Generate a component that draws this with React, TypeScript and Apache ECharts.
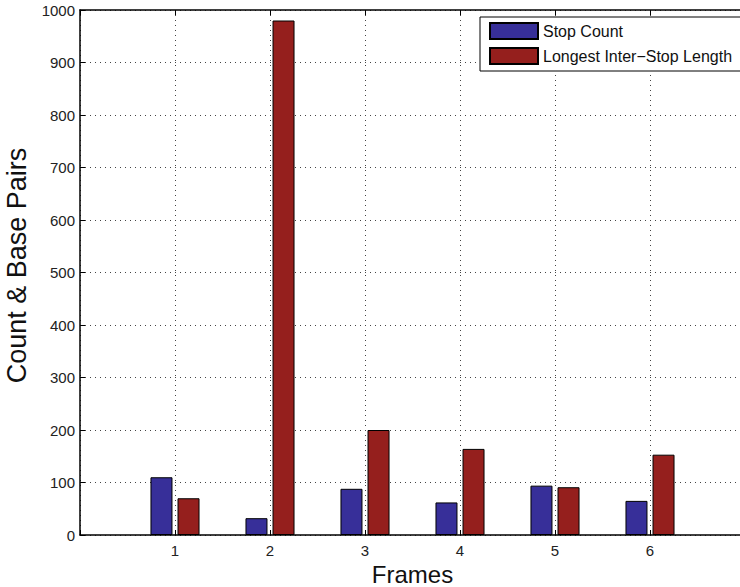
import React, { useEffect, useRef } from "react";
import * as echarts from "echarts";

const categories = ["", "1", "2", "3", "4", "5", "6", ""];
const stopCount = [null, 110, 32, 88, 62, 94, 65, null];
const longestInterStop = [null, 70, 980, 200, 164, 91, 153, null];
const seriesNames = ["Stop Count", "Longest Inter\u2212Stop Length"];
const yMin = 0;
const yMax = 1000;
const yInterval = 100;

const FONT = "'Liberation Sans', Arial, Helvetica, sans-serif";

export default function App() {
  const ref = useRef<HTMLDivElement>(null);
  useEffect(() => {
    if (!ref.current) return;
    const chart = echarts.init(ref.current, null, { renderer: "svg" });
    const gridLine = { show: true, lineStyle: { color: "#444", type: [1, 4] as any, width: 1 } };
    chart.setOption({
      animation: false,
      backgroundColor: "#fff",
      textStyle: { fontFamily: FONT },
      grid: {
        left: 80,
        top: 10,
        width: 665,
        height: 525,
        containLabel: false,
        outerBoundsMode: "none",
      },
      legend: {
        orient: "vertical",
        left: 480,
        top: 17,
        padding: [5, 12, 6, 9],
        itemGap: 7,
        itemWidth: 48,
        itemHeight: 16,
        icon: "rect",
        backgroundColor: "#fff",
        borderColor: "#000",
        borderWidth: 1,
        borderRadius: 0,
        textStyle: { fontSize: 16, color: "#111", fontFamily: FONT },
        data: seriesNames,
      },
      xAxis: [
        {
          type: "category",
          data: categories,
          boundaryGap: false,
          position: "bottom",
          axisLine: { show: true, lineStyle: { color: "#000", width: 1.5 } },
          axisTick: { show: true, inside: true, length: 5, lineStyle: { color: "#000" } },
          axisLabel: { show: true, fontSize: 15, color: "#222", margin: 8, fontFamily: FONT },
          splitLine: gridLine,
          name: "Frames",
          nameLocation: "middle",
          nameGap: 24,
          nameTextStyle: { fontSize: 24, color: "#111", fontFamily: FONT },
        },
        {
          type: "category",
          data: categories,
          boundaryGap: false,
          position: "top",
          axisLine: { show: true, lineStyle: { color: "#000", width: 1.5 } },
          axisTick: { show: true, inside: true, length: 5, lineStyle: { color: "#000" } },
          axisLabel: { show: false },
          splitLine: { show: false },
        },
      ],
      yAxis: {
        type: "value",
        min: yMin,
        max: yMax,
        interval: yInterval,
        axisLine: { show: true, lineStyle: { color: "#000", width: 1.5 } },
        axisTick: { show: true, inside: true, length: 5, lineStyle: { color: "#000" } },
        axisLabel: {
          fontSize: 15,
          color: "#222",
          margin: 5,
          fontFamily: FONT,
          formatter: (v: number) => String(v),
        },
        splitLine: gridLine,
        name: "Count & Base Pairs",
        nameLocation: "middle",
        nameGap: 50,
        nameTextStyle: { fontSize: 27, color: "#111", fontFamily: FONT, padding: [0, 0, 0, 14] },
      },
      series: [
        {
          name: seriesNames[0],
          type: "bar",
          xAxisIndex: 0,
          data: stopCount,
          barWidth: 22,
          barGap: "23%",
          itemStyle: { color: "#372f99", borderColor: "#000", borderWidth: 1 },
        },
        {
          name: seriesNames[1],
          type: "bar",
          xAxisIndex: 0,
          data: longestInterStop,
          barWidth: 22,
          barGap: "23%",
          itemStyle: { color: "#951f1d", borderColor: "#000", borderWidth: 1 },
        },
      ],
    });
    return () => chart.dispose();
  }, []);
  return (
    <div
      ref={ref}
      style={{ position: "fixed", left: 0, top: 0, width: 740, height: 587, background: "#fff" }}
    />
  );
}
